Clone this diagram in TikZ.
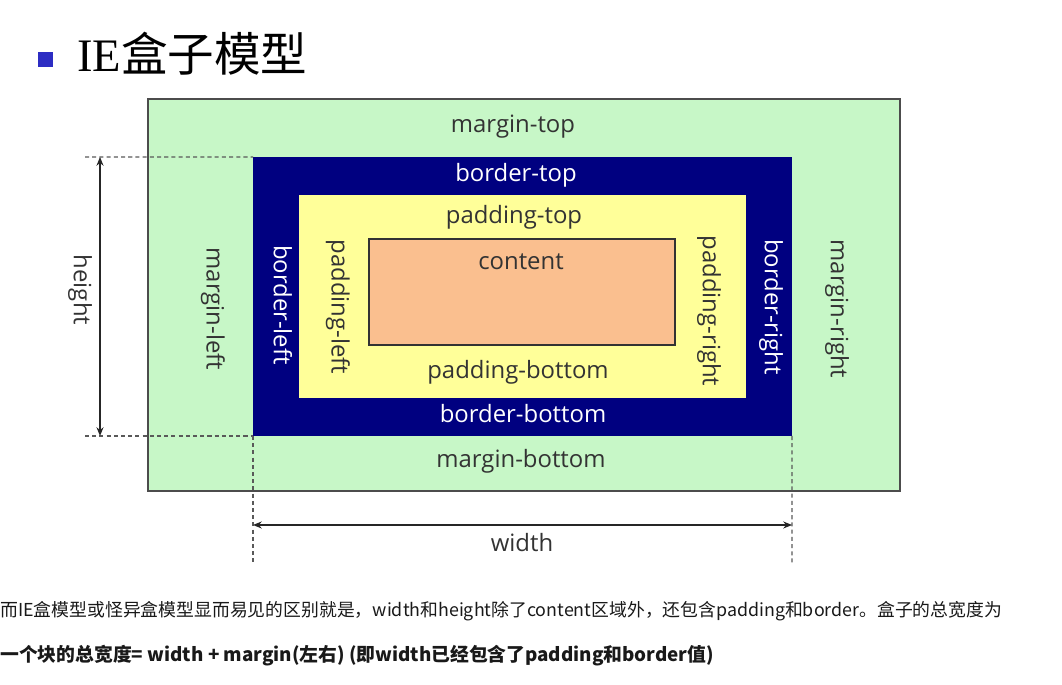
\documentclass[tikz,border=0pt]{standalone}
\usepackage{fontspec}
\setmainfont{Open Sans}
\newfontfamily\cjk{Noto Sans CJK SC}
\newfontfamily\titleserif{Liberation Serif}
\usetikzlibrary{arrows.meta,positioning,fit}

\definecolor{margingreen}{RGB}{199,247,199}
\definecolor{bordernavy}{RGB}{0,0,128}
\definecolor{paddingyellow}{RGB}{255,255,153}
\definecolor{contentorange}{RGB}{250,191,143}
\definecolor{labelgray}{RGB}{51,51,51}
\definecolor{bulletblue}{RGB}{45,45,195}

\tikzset{
  layer/.style={inner sep=0pt, outer sep=0pt},
  boxlabel/.style={font=\fontsize{13.6}{16}\selectfont, text=labelgray, inner sep=1pt},
  navylabel/.style={boxlabel, text=white},
  guide/.style={draw=gray!70!black, line width=0.6pt, dash pattern=on 2.3pt off 1.8pt},
  dimline/.style={draw=black!85, line width=0.7pt, {Stealth[length=5pt,width=4pt]}-{Stealth[length=5pt,width=4pt]}},
  notetext/.style={font=\cjk\fontsize{10.15}{12}\selectfont, text=black!90, inner sep=0pt, anchor=west}
}

\begin{document}
\begin{tikzpicture}[x=0.02cm, y=-0.02cm]
  \useasboundingbox (0,0) rectangle (1062,685);
  % ---- title
  \fill[bulletblue] (38,52) rectangle (53,67);
  \node[anchor=base west, inner sep=0pt, font=\fontsize{26.5}{30}\selectfont] (title) at (77,72)
    {\titleserif IE\cjk 盒子模型};
  % ---- nested boxes
  \node[layer, fit={(148,99)(900,491)}, fill=margingreen, draw=gray!60!black, line width=0.6pt] (margin) {};
  \node[layer, fit={(253,157)(792,436)}, fill=bordernavy] (border) {};
  \node[layer, fit={(299,195)(746,398)}, fill=paddingyellow] (padding) {};
  \node[layer, fit={(369,239)(675,345)}, fill=contentorange, draw=gray!40!black, line width=0.6pt] (content) {};
  % ---- horizontal labels
  \node[boxlabel] (mtop) at (513,127) {margin-top};
  \node[navylabel] (btop) at (516,175) {border-top};
  \node[boxlabel] (ptop) at (514,217) {padding-top};
  \node[boxlabel] (ctext) at (521,262) {content};
  \node[boxlabel] (pbot) at (518,372) {padding-bottom};
  \node[navylabel] (bbot) at (523,414) {border-bottom};
  \node[boxlabel] (mbot) at (521,461) {margin-bottom};
  % ---- side labels, read top to bottom
  \node[boxlabel, rotate=-90] (mleft) at (213,309) {margin-left};
  \node[navylabel, rotate=-90] (bleft) at (283,305) {border-left};
  \node[boxlabel, rotate=-90] (pleft) at (338,307) {padding-left};
  \node[boxlabel, rotate=-90] (pright) at (709,311) {padding-right};
  \node[navylabel, rotate=-90] (bright) at (771,307) {border-right};
  \node[boxlabel, rotate=-90] (mright) at (837,309) {margin-right};
  % ---- height
  \coordinate (gTop) at (85,157);
  \coordinate (gBot) at (85,436);
  \coordinate (hTop) at (100,157);
  \coordinate (hBot) at (100,436);
  \draw[guide] (gTop) -- (border.north west);
  \draw[guide] (gBot) -- (border.south west);
  \draw[dimline] (hTop) -- (hBot);
  \node[boxlabel, rotate=-90] (hlabel) at (80,290) {height};
  % ---- width
  \coordinate (gLeft) at (253,565);
  \coordinate (gRight) at (792,565);
  \coordinate (wLeft) at (253,525);
  \coordinate (wRight) at (792,525);
  \draw[guide] (border.south west) -- (gLeft);
  \draw[guide] (border.south east) -- (gRight);
  \draw[dimline] (wLeft) -- (wRight);
  \node[boxlabel] (wlabel) at (522,543) {width};
  % ---- notes below
  \node[notetext] (note1) at (0,611)
    {而IE盒模型或怪异盒模型显而易见的区别就是，width和height除了content区域外，还包含padding和border。盒子的总宽度为};
  \node[notetext, font=\cjk\bfseries\fontsize{10.7}{12}\selectfont] (note2) at (0,656)
    {一个块的总宽度= width + margin(左右) (即width已经包含了padding和border值)};
\end{tikzpicture}
\end{document}
